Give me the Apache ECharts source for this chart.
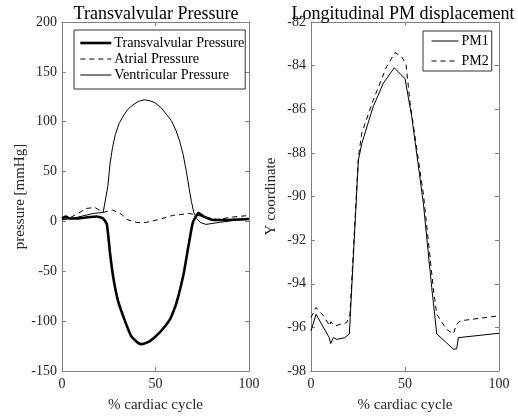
<!DOCTYPE html>
<html><head><meta charset="utf-8">
<script src="https://cdn.jsdelivr.net/npm/echarts@6/dist/echarts.min.js"></script>
<style>html,body{margin:0;padding:0;background:#fff}#c{width:518px;height:418px}</style>
</head><body><div id="c"></div>
<script>
// Left panel: pressures (x = % cardiac cycle)
const transX = [0, 2, 4, 8.6, 13, 18.5, 22, 24, 25.7, 27.4, 30, 33.7, 37, 40.8, 43, 47, 52.4, 57.8, 61, 65, 67.5, 70, 73, 75.6, 81, 88, 94, 100];
const transY = [3, 5, 3, 3, 4, 5, 3, -3, -32, -56, -80, -100, -115, -122, -123, -120, -111, -98, -83, -53, -26, -1, 8.5, 5, 1.5, 1.5, 2, 2.5];
const atrialX = [0, 4, 8.6, 13, 17.6, 22, 27, 32, 34.6, 40, 45, 52, 59, 68, 74, 83, 91.6, 100];
const atrialY = [2, 3.5, 8, 13, 14, 9, 11.5, 7, 2, -1, -1, 2, 6, 8, 5.5, 2, 4.5, 6];
const ventX = [0, 7.8, 16.7, 22, 23, 24.5, 25.7, 27, 28.5, 30.5, 32.5, 35, 38, 41, 44, 47, 49.7, 53, 56, 58.5, 61, 63, 64.8, 66.5, 68, 69.2, 70.5, 72, 74, 77, 84, 92, 100];
const ventY = [1.5, 4, 8, 9, 10, 35, 58, 74, 87, 98, 105, 112, 117, 120.5, 122, 121, 119, 114, 107, 101, 91, 80, 67, 50, 33, 20, 9, 3, -1, -3, -1, 1, 2];
// Right panel: PM displacement
const pm1X = [0, 2.7, 9.7, 10.5, 11.9, 13.7, 18, 20.4, 25.2, 27, 33, 38.5, 44.3, 50, 53.6, 59.8, 64.2, 66.9, 72, 75.7, 77.5, 78.4, 100];
const pm1Y = [-96.16, -95.4, -96.47, -96.74, -96.47, -96.55, -96.47, -96.3, -88.34, -87.58, -85.9, -84.8, -84.1, -84.6, -86.35, -90.34, -94.17, -96.3, -96.7, -97.0, -96.98, -96.47, -96.27];
const pm2X = [0, 2.7, 6.6, 10, 10.5, 12.8, 19, 20.7, 25.2, 27, 33, 40.2, 44.7, 48.2, 50.5, 52.7, 59.8, 65, 66.9, 72, 75.7, 77.5, 79.3, 100];
const pm2Y = [-95.55, -95.09, -95.47, -95.93, -95.75, -95.93, -95.78, -95.4, -88.2, -87.1, -85.6, -84.05, -83.4, -83.6, -83.9, -85.7, -89.9, -94.17, -95.4, -96.08, -96.3, -95.85, -95.7, -95.47];
const leftTitle = 'Transvalvular Pressure';
const rightTitle = 'Longitudinal PM displacement';

const zip = (xs, ys) => xs.map((x, i) => [x, ys[i]]);
const FONT = 'Liberation Serif';
const AXC = '#7f7f7f';
const TXT = '#262626';
const DASH = [5, 4];

function xA(grid, show) {
  return {
    type: 'value', gridIndex: grid, min: 0, max: 100, interval: 50,
    position: show ? 'bottom' : 'top',
    name: show ? '% cardiac cycle' : '', nameLocation: 'middle', nameGap: 27,
    nameTextStyle: {fontFamily: FONT, fontSize: 15, color: TXT},
    axisLine: {show: true, onZero: false, lineStyle: {color: AXC, width: 1}},
    axisTick: {show: true, inside: true, length: 4, lineStyle: {color: AXC}},
    axisLabel: {show: show, fontFamily: FONT, fontSize: 14, color: TXT, margin: 6},
    splitLine: {show: false}
  };
}
function yA(grid, show, min, max, interval, name, gap) {
  return {
    type: 'value', gridIndex: grid, min: min, max: max, interval: interval,
    position: show ? 'left' : 'right',
    name: show ? name : '', nameLocation: 'middle', nameGap: gap,
    nameTextStyle: {fontFamily: FONT, fontSize: 15, color: TXT},
    axisLine: {show: true, onZero: false, lineStyle: {color: AXC, width: 1}},
    axisTick: {show: true, inside: true, length: 4, lineStyle: {color: AXC}},
    axisLabel: {show: show, fontFamily: FONT, fontSize: 14, color: TXT, margin: 5},
    splitLine: {show: false}
  };
}

const chart = echarts.init(document.getElementById('c'), null, {renderer: 'canvas'});
chart.setOption({
  animation: false,
  backgroundColor: '#fff',
  textStyle: {fontFamily: FONT},
  title: [
    {text: leftTitle, left: 151, top: 0, textAlign: 'center', textStyle: {fontFamily: FONT, fontSize: 18, fontWeight: 'normal', color: '#000'}},
    {text: rightTitle, left: 398, top: 0, textAlign: 'center', textStyle: {fontFamily: FONT, fontSize: 18, fontWeight: 'normal', color: '#000'}}
  ],
  grid: [
    {left: 62, right: 269, top: 22, bottom: 47},
    {left: 311, right: 19, top: 22, bottom: 47}
  ],
  xAxis: [xA(0, true), xA(0, false), xA(1, true), xA(1, false)],
  yAxis: [
    yA(0, true, -150, 200, 50, 'pressure [mmHg]', 33),
    yA(0, false, -150, 200, 50, '', 0),
    yA(1, true, -98, -82, 2, 'Y coordinate', 32),
    yA(1, false, -98, -82, 2, '', 0)
  ],
  legend: [
    {
      data: [
        {name: 'Transvalvular Pressure', lineStyle: {width: 2.6, color: '#000'}},
        {name: 'Atrial Pressure', lineStyle: {width: 1, type: DASH, color: '#000'}},
        {name: 'Ventricular Pressure', lineStyle: {width: 1, color: '#000'}}
      ],
      orient: 'vertical', left: 74, top: 30,
      itemWidth: 31, itemHeight: 14, itemGap: 2,
      padding: [6, 1, 7, 5],
      itemStyle: {opacity: 0},
      borderColor: '#333', borderWidth: 1, backgroundColor: '#fff',
      textStyle: {fontFamily: FONT, fontSize: 14.2, color: '#000', padding: [0, 0, 0, -2]}
    },
    {
      data: [
        {name: 'PM1', lineStyle: {width: 1, color: '#000'}},
        {name: 'PM2', lineStyle: {width: 1, type: DASH, color: '#000'}}
      ],
      orient: 'vertical', left: 423, top: 31,
      itemWidth: 27, itemHeight: 14, itemGap: 6,
      padding: [3, 3, 3, 8],
      itemStyle: {opacity: 0},
      borderColor: '#333', borderWidth: 1, backgroundColor: '#fff',
      textStyle: {fontFamily: FONT, fontSize: 14, color: '#000', padding: [0, 0, 0, -2]}
    }
  ],
  series: [
    {name: 'Transvalvular Pressure', type: 'line', xAxisIndex: 0, yAxisIndex: 0, data: zip(transX, transY), symbol: 'none', smooth: 0.15, lineStyle: {color: '#000', width: 2.6}, itemStyle: {color: '#000'}},
    {name: 'Atrial Pressure', type: 'line', xAxisIndex: 0, yAxisIndex: 0, data: zip(atrialX, atrialY), symbol: 'none', lineStyle: {color: '#000', width: 1, type: DASH}, itemStyle: {color: '#000'}},
    {name: 'Ventricular Pressure', type: 'line', xAxisIndex: 0, yAxisIndex: 0, data: zip(ventX, ventY), symbol: 'none', lineStyle: {color: '#000', width: 1}, itemStyle: {color: '#000'}},
    {name: 'PM1', type: 'line', xAxisIndex: 2, yAxisIndex: 2, data: zip(pm1X, pm1Y), symbol: 'none', lineStyle: {color: '#000', width: 1}, itemStyle: {color: '#000'}},
    {name: 'PM2', type: 'line', xAxisIndex: 2, yAxisIndex: 2, data: zip(pm2X, pm2Y), symbol: 'none', lineStyle: {color: '#000', width: 1, type: DASH}, itemStyle: {color: '#000'}}
  ]
});
</script></body></html>
